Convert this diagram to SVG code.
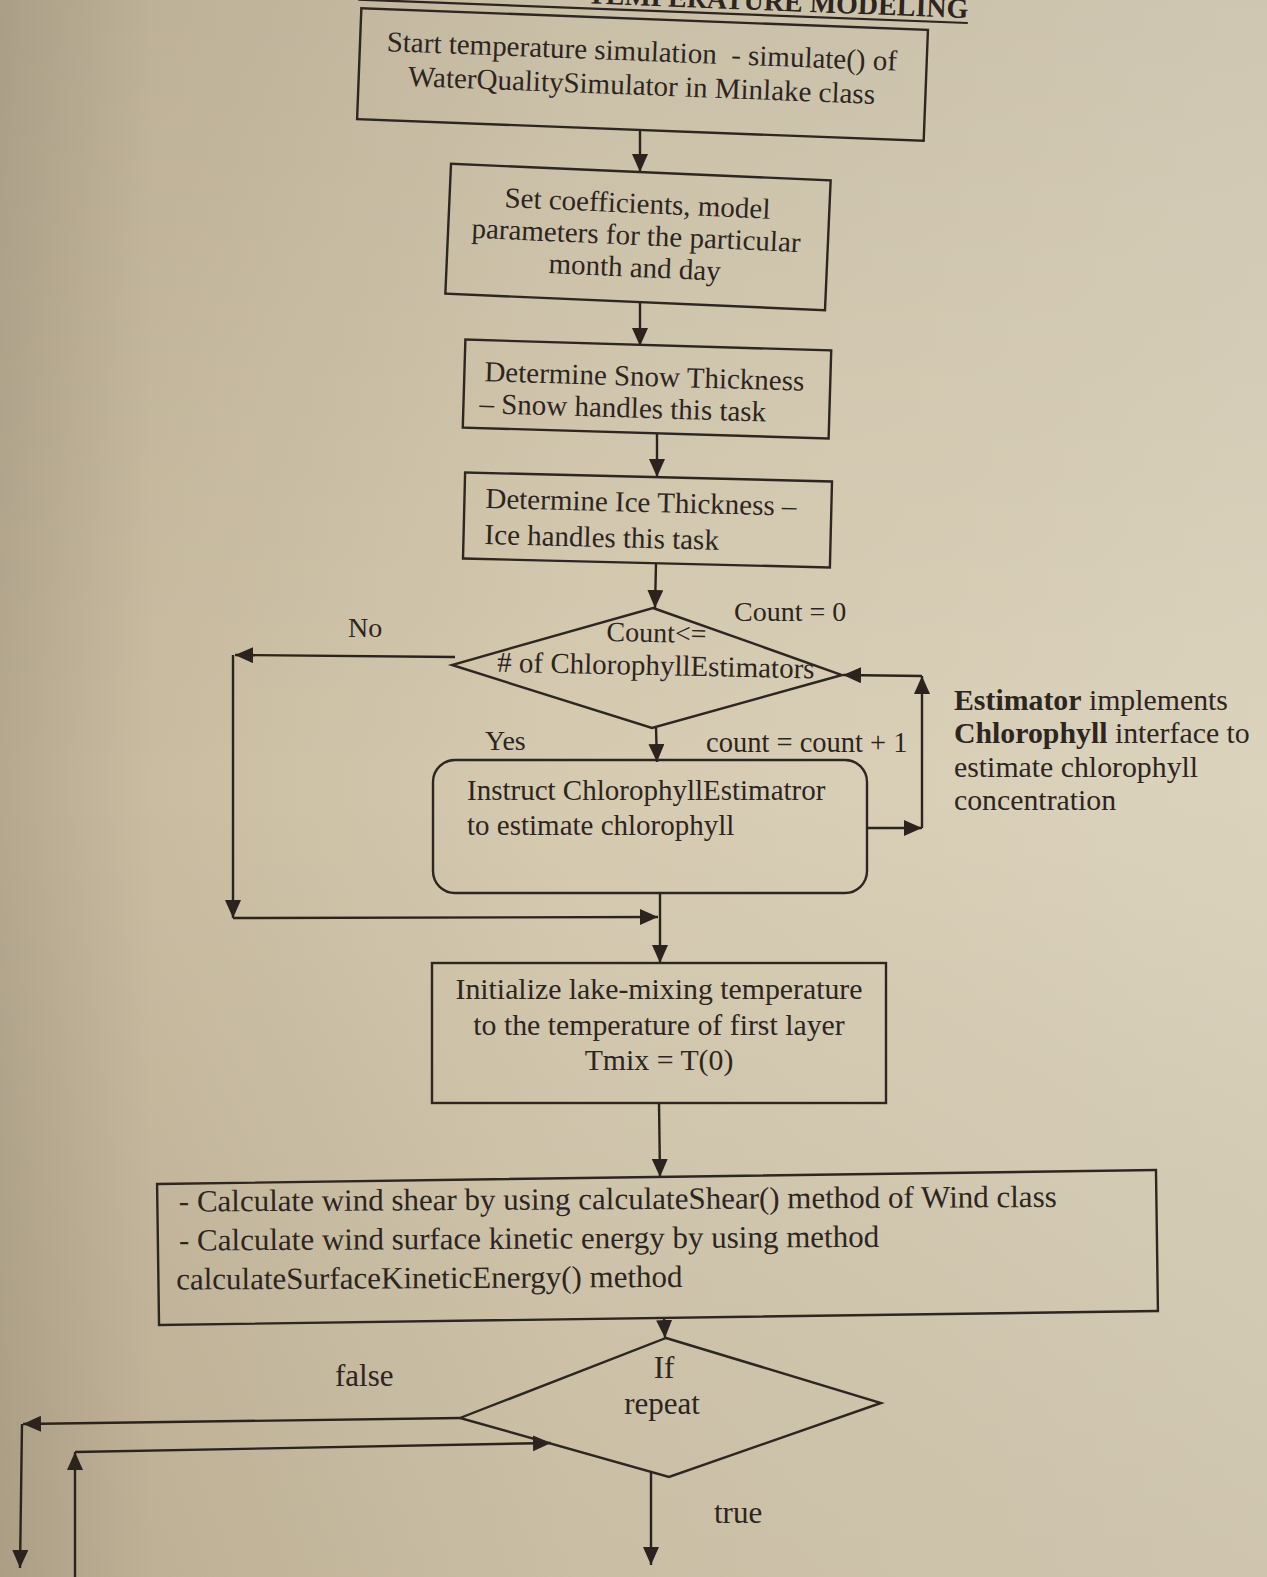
<svg xmlns="http://www.w3.org/2000/svg" width="1267" height="1577" viewBox="0 0 1267 1577">
<defs>
<linearGradient id="paper" x1="0" y1="0" x2="1" y2="0">
<stop offset="0" stop-color="#b5a88f"/>
<stop offset="0.12" stop-color="#c9bca1"/>
<stop offset="0.45" stop-color="#d6cbb1"/>
<stop offset="1" stop-color="#dcd3bd"/>
</linearGradient>
<linearGradient id="shade" x1="0" y1="0" x2="0" y2="1">
<stop offset="0" stop-color="#000" stop-opacity="0.06"/>
<stop offset="0.5" stop-color="#000" stop-opacity="0"/>
<stop offset="1" stop-color="#3a2a10" stop-opacity="0.08"/>
</linearGradient>
<marker id="ah" markerUnits="userSpaceOnUse" markerWidth="19" markerHeight="17" refX="18" refY="8" orient="auto">
<path d="M0,0 L18,8 L0,16 z" fill="#2b231d"/>
</marker>
</defs>
<style>
.bx{fill:none;stroke:#2e2620;stroke-width:2.4}
.ln{fill:none;stroke:#2b231d;stroke-width:2.4;marker-end:url(#ah)}
.t{font-family:"Liberation Serif","Times New Roman",serif;font-size:29px;fill:#2d251f}
.tb{font-size:31px}
.m{text-anchor:middle}
.b{font-weight:bold}
</style>
<rect x="0" y="0" width="1267" height="1577" fill="url(#paper)"/>
<rect x="0" y="0" width="1267" height="1577" fill="url(#shade)"/>

<g id="title" transform="translate(968,18) rotate(2.2)">
<text class="t b" x="0" y="0" style="font-size:28px;text-anchor:end">TEMPERATURE MODELING</text>
<line x1="-610" y1="5" x2="0" y2="5" stroke="#2d251f" stroke-width="2.2"/>
</g>

<g id="connectors">
<line class="ln" x1="640" y1="131" x2="640" y2="172"/>
<line class="ln" x1="640" y1="302" x2="640" y2="346"/>
<line class="ln" x1="657" y1="433" x2="657" y2="477"/>
<line class="ln" x1="656" y1="563" x2="655" y2="608"/>
<line class="ln" x1="455" y1="657" x2="235" y2="655"/>
<line class="ln" x1="233" y1="655" x2="233" y2="918"/>
<line class="ln" x1="233" y1="918" x2="658" y2="917"/>
<line class="ln" x1="656" y1="728" x2="657" y2="762"/>
<line class="ln" x1="867" y1="828" x2="922" y2="828"/>
<line class="ln" x1="922" y1="828" x2="922" y2="676"/>
<line class="ln" x1="922" y1="676" x2="843" y2="675"/>
<line class="ln" x1="660" y1="893" x2="660" y2="963"/>
<line class="ln" x1="659" y1="1103" x2="660" y2="1177"/>
<line class="ln" x1="664" y1="1317" x2="665" y2="1338"/>
<line class="ln" x1="460" y1="1418" x2="23" y2="1424"/>
<line class="ln" x1="22" y1="1424" x2="20" y2="1568"/>
<line class="ln" x1="75" y1="1580" x2="75" y2="1452"/>
<line class="ln" x1="75" y1="1452" x2="551" y2="1443"/>
<line class="ln" x1="651" y1="1472" x2="651" y2="1565"/>
<text class="t" x="734" y="621" style="font-size:28px">Count = 0</text>
<text class="t" x="348" y="637" style="font-size:28px">No</text>
<text class="t" x="485" y="750" style="font-size:28px">Yes</text>
<text class="t" x="706" y="752" style="font-size:28.5px">count = count + 1</text>
<text class="t tb" x="335" y="1386">false</text>
<text class="t tb" x="714" y="1523">true</text>
</g>

<g id="node-start" transform="translate(643,75) rotate(2.2)">
<rect class="bx" x="-284" y="-56" width="567" height="111"/>
<text class="t m" x="-2" y="-14" xml:space="preserve">Start temperature simulation  - simulate() of</text>
<text class="t m" x="-1" y="20">WaterQualitySimulator in Minlake class</text>
</g>

<g id="node-coefficients" transform="translate(638,237) rotate(2.5)">
<rect class="bx" x="-190" y="-65" width="380" height="130"/>
<text class="t m" x="-2" y="-24">Set coefficients, model</text>
<text class="t m" x="-2" y="8">parameters for the particular</text>
<text class="t m" x="-2" y="40">month and day</text>
</g>

<g id="node-snow" transform="translate(647,389) rotate(1.7)">
<rect class="bx" x="-183" y="-44" width="366" height="88"/>
<text class="t" x="-163" y="-3">Determine Snow Thickness</text>
<text class="t" x="-167" y="29">– Snow handles this task</text>
</g>

<g id="node-ice" transform="translate(648,520) rotate(1.4)">
<rect class="bx" x="-184" y="-43" width="367" height="86"/>
<text class="t" x="-163" y="-8">Determine Ice Thickness –</text>
<text class="t" x="-163" y="28">Ice handles this task</text>
</g>

<g id="node-count-check">
<polygon class="bx" points="653,608 842,675 652,728 452,665"/>
<g transform="rotate(1.2 656 660)">
<text class="t m" x="656" y="642" style="font-size:28px">Count&lt;=</text>
<text class="t m" x="656" y="675"># of ChlorophyllEstimators</text>
</g>
</g>

<g id="node-instruct">
<rect class="bx" x="433" y="760" width="434" height="133" rx="22" ry="22"/>
<text class="t" x="467" y="800">Instruct ChlorophyllEstimatror</text>
<text class="t" x="467" y="835">to estimate chlorophyll</text>
</g>

<g id="note-estimator">
<text class="t" x="954" y="710" style="font-size:29.8px"><tspan class="b">Estimator</tspan> implements</text>
<text class="t" x="954" y="743" style="font-size:29.8px"><tspan class="b">Chlorophyll</tspan> interface to</text>
<text class="t" x="954" y="777" style="font-size:29.8px">estimate chlorophyll</text>
<text class="t" x="954" y="810" style="font-size:29.8px">concentration</text>
</g>

<g id="node-init">
<rect class="bx" x="432" y="963" width="454" height="140"/>
<text class="t m" x="659" y="999" style="font-size:29.8px">Initialize lake-mixing temperature</text>
<text class="t m" x="659" y="1035" style="font-size:29.8px">to the temperature of first layer</text>
<text class="t m" x="659" y="1070" style="font-size:29.8px">Tmix = T(0)</text>
</g>

<g id="node-wind" transform="translate(657,1247)">
<rect class="bx" x="-499" y="-70" width="999" height="141" transform="rotate(-0.8)"/>
<g transform="rotate(-0.3)">
<text class="t tb" x="-478" y="-38">- Calculate wind shear by using calculateShear() method of Wind class</text>
<text class="t tb" x="-478" y="1">- Calculate wind surface kinetic energy by using method</text>
<text class="t tb" x="-481" y="40">calculateSurfaceKineticEnergy() method</text>
</g>
</g>

<g id="node-repeat">
<polygon class="bx" points="666,1338 881,1403 669,1477 460,1418"/>
<text class="t tb m" x="664" y="1378">If</text>
<text class="t tb m" x="662" y="1414">repeat</text>
</g>
</svg>
